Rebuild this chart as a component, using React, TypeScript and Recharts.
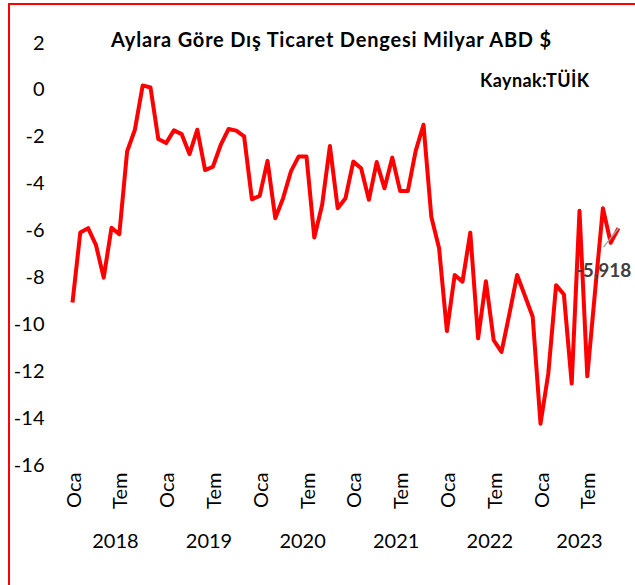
import { Line, LineChart, XAxis, YAxis } from "recharts";

const FONT = "Lato, 'Open Sans', sans-serif";

const MONTHS = ["Oca", "Şub", "Mar", "Nis", "May", "Haz", "Tem", "Ağu", "Eyl", "Eki", "Kas", "Ara"];
const YEARS = [2018, 2019, 2020, 2021, 2022, 2023];

// dış ticaret dengesi, milyar ABD $ (Oca 2018 - Kas 2023)
const BALANCE = [
  -9.09, -6.1, -5.92, -6.63, -8.03, -5.9, -6.18, -2.65, -1.72, 0.17, 0.08, -2.12,
  -2.29, -1.75, -1.91, -2.76, -1.72, -3.44, -3.3, -2.37, -1.69, -1.76, -2.0, -4.69,
  -4.54, -3.05, -5.5, -4.64, -3.5, -2.86, -2.86, -6.32, -4.93, -2.41, -5.07, -4.64,
  -3.08, -3.36, -4.71, -3.1, -4.22, -2.91, -4.33, -4.33, -2.62, -1.51, -5.43, -6.78,
  -10.31, -7.92, -8.2, -6.11, -10.62, -8.18, -10.7, -11.2, -9.6, -7.92, -8.8, -9.7,
  -14.26, -12.12, -8.35, -8.75, -12.55, -5.18, -12.24, -8.6, -5.07, -6.54, -5.918,
];

const Y_TICKS = [2, 0, -2, -4, -6, -8, -10, -12, -14, -16];

const data = BALANCE.map((value, i) => ({
  idx: i,
  year: YEARS[Math.floor(i / 12)],
  month: MONTHS[i % 12],
  value,
}));

const lastIdx = data.length - 1;
const monthTicks = data.filter((d) => d.month === "Oca" || d.month === "Tem").map((d) => d.idx);
const yearTicks = YEARS.map((y) => {
  const ids = data.filter((d) => d.year === y).map((d) => d.idx);
  return (ids[0] + ids[ids.length - 1]) / 2;
});

const MonthTick = ({ x, y, payload }: any) => (
  <text
    x={x}
    y={y}
    transform={`rotate(-90 ${x} ${y})`}
    textAnchor="end"
    dominantBaseline="central"
    fontSize={20}
    fontFamily={FONT}
    fill="#000"
  >
    {MONTHS[payload.value % 12]}
  </text>
);

const LastLabel = ({ x, y, index, value }: any) => {
  if (index !== lastIdx) return null;
  return (
    <g>
      <line x1={x} y1={y} x2={x - 15} y2={y + 19} stroke="#a6a6a6" strokeWidth={1.5} />
      <text
        x={x - 15}
        y={y + 41}
        textAnchor="middle"
        dominantBaseline="central"
        fontSize={19}
        fontWeight={700}
        fontFamily={FONT}
        fill="#404040"
      >
        {value.toFixed(3).replace(".", ",")}
      </text>
    </g>
  );
};

export default function App() {
  return (
    <div style={{ position: "fixed", inset: 0, overflow: "hidden", background: "#fff", fontFamily: FONT }}>
      <div
        style={{
          position: "absolute",
          left: 8,
          top: 3,
          width: 700,
          height: 700,
          border: "2px solid #ff0000",
          boxSizing: "border-box",
        }}
      />
      <div style={{ position: "absolute", left: 0, top: 0 }}>
        <LineChart
          width={635}
          height={585}
          data={data}
          margin={{ top: 42.5, right: 16.5, left: 12.5, bottom: 29.5 }}
        >
          <XAxis
            dataKey="idx"
            type="number"
            domain={[0, lastIdx]}
            ticks={monthTicks}
            interval={0}
            axisLine={false}
            tickLine={false}
            height={61}
            tick={<MonthTick />}
          />
          <XAxis
            xAxisId="year"
            dataKey="idx"
            type="number"
            domain={[0, lastIdx]}
            ticks={yearTicks}
            interval={0}
            axisLine={false}
            tickLine={false}
            height={30}
            tickFormatter={(v: number) => String(YEARS[Math.round((v - 5.5) / 12)])}
            tick={{ fontSize: 20, fill: "#000", fontFamily: FONT }}
          />
          <YAxis
            type="number"
            domain={[-16, 2]}
            ticks={Y_TICKS}
            interval={0}
            width={60}
            axisLine={false}
            tickLine={false}
            tickMargin={22}
            tick={{ fontSize: 20, fill: "#000", fontFamily: FONT }}
          />
          <Line
            type="linear"
            dataKey="value"
            stroke="#ff0000"
            strokeWidth={4}
            strokeLinejoin="round"
            dot={false}
            activeDot={false}
            isAnimationActive={false}
            label={<LastLabel />}
          />
        </LineChart>
      </div>
      <div
        style={{
          position: "absolute",
          left: 0,
          width: 663,
          top: 29,
          textAlign: "center",
          fontSize: 20,
          lineHeight: "20px",
          letterSpacing: 0.8,
          fontWeight: 700,
          color: "#000",
          whiteSpace: "nowrap",
        }}
      >
        Aylara Göre Dış Ticaret Dengesi Milyar ABD $
      </div>
      <div
        style={{
          position: "absolute",
          left: 480,
          top: 71,
          fontSize: 18,
          lineHeight: "18px",
          letterSpacing: 0.4,
          fontWeight: 700,
          color: "#000",
          whiteSpace: "nowrap",
        }}
      >
        Kaynak:TÜİK
      </div>
    </div>
  );
}
